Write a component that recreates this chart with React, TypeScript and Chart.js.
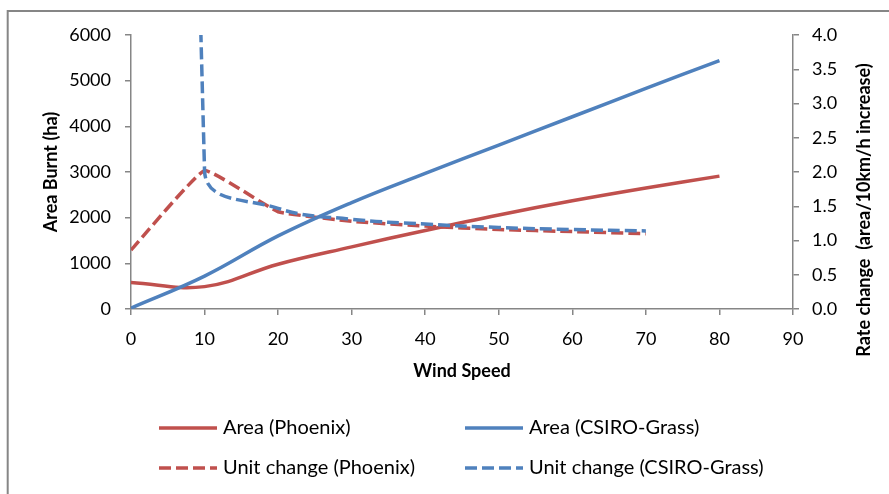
import { useEffect, useRef } from 'react';
import { Chart, registerables } from 'chart.js';

Chart.register(...registerables);

// ---- data ----
const windSpeed = [0, 10, 20, 30, 40, 50, 60, 70, 80];
const areaPhoenix = [580, 490, 980, 1360, 1720, 2060, 2370, 2650, 2910];
const areaCsiro = [20, 720, 1600, 2330, 2970, 3590, 4210, 4830, 5440];
const unitWind = [0, 10, 20, 30, 40, 50, 60, 70];
const unitPhoenix = [0.86, 2.02, 1.42, 1.28, 1.21, 1.16, 1.13, 1.1];
const unitCsiro = [80, 2.02, 1.47, 1.31, 1.24, 1.19, 1.16, 1.14];

const seriesLabels = ['Area (Phoenix)', 'Area (CSIRO-Grass)', 'Unit change (Phoenix)', 'Unit change (CSIRO-Grass)'];
const xTitle = 'Wind Speed';
const leftTitle = 'Area Burnt (ha)';
const rightTitle = 'Rate change  (area/10km/h increase)';

const RED = '#C0504D';
const BLUE = '#4F81BD';
const AXIS = '#868686';
const FONT = 'Lato';
const DASH = [12, 5];

const pts = (xs: number[], ys: number[]) => xs.map((x, i) => ({ x, y: ys[i] }));

const framePlugin = {
  id: 'frame',
  beforeDraw(chart: any) {
    const ctx = chart.ctx;
    ctx.save();
    ctx.strokeStyle = AXIS;
    ctx.lineWidth = 2;
    ctx.strokeRect(7.7, 11, 2000, 2000);
    ctx.restore();
  },
};

const rightTitlePlugin = {
  id: 'rightTitle',
  afterDraw(chart: any) {
    const ctx = chart.ctx;
    ctx.save();
    ctx.translate(864, 210);
    ctx.rotate(-Math.PI / 2);
    ctx.font = `bold 18px ${FONT}`;
    ctx.fillStyle = '#000';
    ctx.textAlign = 'center';
    ctx.textBaseline = 'middle';
    ctx.fillText(rightTitle, 0, 0);
    ctx.restore();
  },
};

const legendPlugin = {
  id: 'customLegend',
  afterDraw(chart: any) {
    const ctx = chart.ctx;
    const cols = [159, 465];
    const rows = [428, 468];
    const lineLen = 58;
    chart.data.datasets.forEach((ds: any, i: number) => {
      const x = cols[i % 2];
      const y = rows[Math.floor(i / 2)];
      ctx.save();
      ctx.strokeStyle = ds.borderColor;
      ctx.lineWidth = 3.5;
      ctx.setLineDash(ds.borderDash || []);
      ctx.beginPath();
      ctx.moveTo(x, y);
      ctx.lineTo(x + lineLen, y);
      ctx.stroke();
      ctx.setLineDash([]);
      ctx.font = `20px ${FONT}`;
      ctx.fillStyle = '#000';
      ctx.textAlign = 'left';
      ctx.textBaseline = 'middle';
      ctx.fillText(ds.label, x + lineLen + 6, y);
      ctx.restore();
    });
  },
};

export default function App() {
  const ref = useRef<HTMLCanvasElement>(null);
  useEffect(() => {
    const canvas = ref.current!;
    const tickFont = { family: FONT, size: 18 };
    const titleFont = { family: FONT, size: 18, weight: 'bold' as const };
    const grid = { drawOnChartArea: false, drawTicks: true, tickLength: 6, color: AXIS, lineWidth: 1.5 };
    const border = { display: true, color: AXIS, width: 1.5 };
    const chart = new Chart(canvas, {
      type: 'line',
      data: {
        datasets: [
          {
            label: seriesLabels[0], data: pts(windSpeed, areaPhoenix), yAxisID: 'y',
            borderColor: RED, backgroundColor: RED, borderWidth: 3.5, pointRadius: 0, tension: 0.4, order: 3,
          },
          {
            label: seriesLabels[1], data: pts(windSpeed, areaCsiro), yAxisID: 'y',
            borderColor: BLUE, backgroundColor: BLUE, borderWidth: 3.5, pointRadius: 0, tension: 0.4, order: 1,
          },
          {
            label: seriesLabels[2], data: pts(unitWind, unitPhoenix), yAxisID: 'y1',
            borderColor: RED, backgroundColor: RED, borderWidth: 3.5, borderDash: DASH, pointRadius: 0, tension: 0.1, order: 2,
          },
          {
            label: seriesLabels[3], data: pts(unitWind, unitCsiro), yAxisID: 'y1',
            borderColor: BLUE, backgroundColor: BLUE, borderWidth: 3.5, borderDash: DASH, pointRadius: 0, tension: 0.4, order: 0,
          },
        ],
      },
      options: {
        responsive: false,
        animation: false,
        devicePixelRatio: 1,
        color: '#000',
        layout: { padding: { left: 0, right: 0, top: 35, bottom: 112 } },
        plugins: { legend: { display: false }, tooltip: { enabled: false } },
        scales: {
          x: {
            type: 'linear', min: 0, max: 90, position: 'bottom',
            ticks: { stepSize: 10, padding: 13, font: tickFont, color: '#000', callback: (v: any) => String(v), maxRotation: 0 },
            grid, border,
            title: { display: true, text: xTitle, font: titleFont, color: '#000', padding: { top: 0, bottom: 0 } },
            afterFit: (s: any) => { s.height = 73; },
          },
          y: {
            type: 'linear', min: 0, max: 6000, position: 'left',
            ticks: { stepSize: 1000, padding: 14, font: tickFont, color: '#000', callback: (v: any) => String(v) },
            grid, border,
            title: { display: true, text: leftTitle, font: titleFont, color: '#000', padding: { top: 40, bottom: 0 } },
            afterFit: (s: any) => { s.width = 131; },
          },
          y1: {
            type: 'linear', min: 0, max: 4, position: 'right',
            ticks: { stepSize: 0.5, padding: 13, font: tickFont, color: '#000', callback: (v: any) => Number(v).toFixed(1) },
            grid, border,
            title: { display: false },
            afterFit: (s: any) => { s.width = 96; },
          },
        },
      },
      plugins: [framePlugin, legendPlugin, rightTitlePlugin],
    } as any);
    return () => chart.destroy();
  }, []);
  return (
    <div style={{ position: 'fixed', left: 0, top: 0, width: 889, height: 494, background: '#fff' }}>
      <canvas ref={ref} width={889} height={494} style={{ display: 'block', width: 889, height: 494 }} />
    </div>
  );
}
